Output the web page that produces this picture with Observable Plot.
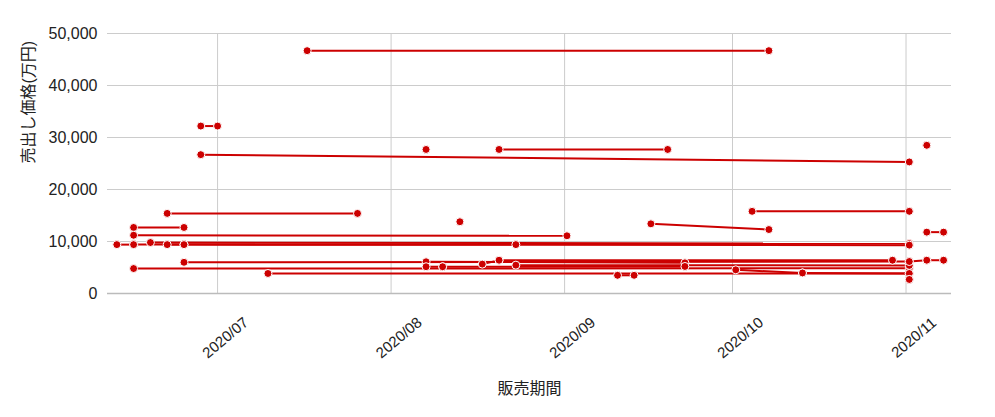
<!DOCTYPE html>
<html><head><meta charset="utf-8">
<script src="https://cdn.jsdelivr.net/npm/d3@7"></script>
<script src="https://cdn.jsdelivr.net/npm/@observablehq/plot@0.6"></script>
<style>body{margin:0;background:#fff}</style>
</head><body><div id="chart"></div>
<script>
// Each listing: start of sale -> end of sale, with start/end asking price (万円)
const startDates = ["2020-07-17","2020-06-28","2020-06-28","2020-08-07T06:00Z","2020-08-20T07:00Z","2020-11-04T17:00Z","2020-06-22","2020-08-13T07:00Z","2020-09-16T10:00Z","2020-10-04T12:00Z","2020-11-04T17:00Z","2020-06-16","2020-06-16","2020-06-13","2020-06-16","2020-06-19","2020-06-22","2020-06-25","2020-06-25","2020-06-16","2020-07-10","2020-08-07T06:00Z","2020-08-07T06:00Z","2020-08-10T05:00Z","2020-08-17T07:00Z","2020-08-20T07:00Z","2020-08-23T07:00Z","2020-09-10T11:00Z","2020-10-01T14:00Z","2020-10-13T12:00Z","2020-11-01T14:00Z","2020-11-01T14:00Z","2020-11-04T17:00Z"];
const endDates   = ["2020-10-07T12:00Z","2020-07-01","2020-11-01T14:00Z","2020-08-07T06:00Z","2020-09-19T10:00Z","2020-11-04T17:00Z","2020-07-26","2020-08-13T07:00Z","2020-10-07T12:00Z","2020-11-01T14:00Z","2020-11-07T17:00Z","2020-06-25","2020-09-01T10:00Z","2020-06-16","2020-08-23T07:00Z","2020-11-01T14:00Z","2020-06-25","2020-11-01T14:00Z","2020-11-01T14:00Z","2020-11-01T14:00Z","2020-11-01T14:00Z","2020-09-22T12:00Z","2020-08-10T05:00Z","2020-09-22T12:00Z","2020-08-20T07:00Z","2020-10-29T14:00Z","2020-11-01T14:00Z","2020-09-13T10:00Z","2020-10-13T12:00Z","2020-11-01T14:00Z","2020-11-01T14:00Z","2020-11-04T17:00Z","2020-11-07T17:00Z"];
const startPrices = [46700,32200,26700,27700,27700,28500,15400,13800,13400,15800,11800,12700,11200,9400,9400,9800,9400,9400,6000,4800,3850,6100,5150,5150,5650,6400,5450,3500,4550,3950,2700,6150,6400];
const endPrices   = [46700,32200,25300,27700,27700,28500,15400,13800,12300,15800,11800,12700,11100,9400,9400,9600,9400,9300,6150,4850,3850,5900,5150,5200,6400,6400,5400,3500,3950,3850,2700,6400,6400];
const monthTicks = ["2020-07-01","2020-08-01","2020-09-01","2020-10-01","2020-11-01"];
const priceTicks = [0,10000,20000,30000,40000,50000];
const yLabel = "売出し価格(万円)";
const xLabel = "販売期間";

const segments = startDates.map((s,i)=>({x1:new Date(s), x2:new Date(endDates[i]), y1:startPrices[i], y2:endPrices[i]}));
const points = segments.flatMap(d=>[{x:d.x1,y:d.y1},{x:d.x2,y:d.y2}]);
const months = monthTicks.map(d=>new Date(d));
const font = "'Liberation Sans', Arial, 'Noto Sans CJK JP', sans-serif";
const red = "#cc0000";

const chart = Plot.plot({
  width: 995, height: 417,
  marginLeft: 107, marginRight: 44, marginTop: 33, marginBottom: 124,
  style: {fontFamily: font, color: "#222", background: "#fff", overflow: "visible"},
  x: {type: "utc", axis: null, domain: [new Date("2020-06-11T08:00Z"), new Date("2020-11-09T03:00Z")]},
  y: {domain: [0, 50000]},
  marks: [
    Plot.gridY(priceTicks, {stroke: "#ccc", strokeOpacity: 1}),
    Plot.gridX(months, {stroke: "#ccc", strokeOpacity: 1}),
    Plot.ruleY([0], {stroke: "#bbb", strokeWidth: 1.5}),
    Plot.axisY(priceTicks, {tickSize: 0, tickPadding: 10, tickFormat: d3.format(","), label: null, fontSize: 16}),
    Plot.text(months, {x: d => d, text: d => d3.utcFormat("%Y/%m")(d), frameAnchor: "bottom", rotate: -40, dx: 11, dy: 48, fontSize: 15, fill: "#222"}),
    Plot.text([yLabel], {frameAnchor: "left", rotate: -90, dx: -79, fontSize: 16, fill: "#222"}),
    Plot.text([xLabel], {frameAnchor: "bottom", dy: 100, fontSize: 16, fill: "#222"}),
    Plot.link(segments, {x1: "x1", y1: "y1", x2: "x2", y2: "y2", stroke: red, strokeWidth: 2}),
    Plot.dot(points, {x: "x", y: "y", r: 4, fill: red, stroke: "white", strokeWidth: 1})
  ]
});
document.getElementById("chart").append(chart);
</script>
</body></html>
